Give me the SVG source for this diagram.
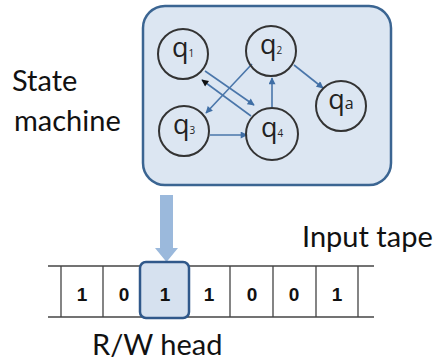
<svg xmlns="http://www.w3.org/2000/svg" width="435" height="361" viewBox="0 0 435 361">
  <defs>
    <marker id="ah" viewBox="0 0 10 10" refX="9" refY="5" markerWidth="8" markerHeight="7" orient="auto" markerUnits="userSpaceOnUse">
      <path d="M0,0 L10,5 L0,10 z" fill="#3f6ea5"/>
    </marker>
    <marker id="ahk" viewBox="0 0 10 10" refX="9" refY="5" markerWidth="8" markerHeight="7" orient="auto" markerUnits="userSpaceOnUse">
      <path d="M0,0 L10,5 L0,10 z" fill="#111"/>
    </marker>
  </defs>
  <style>
    .lbl { font-family: Lato, "Open Sans", sans-serif; font-size: 29px; fill: #111; }
    .st circle { fill: none; stroke: #333; stroke-width: 2; }
    .st text { font-family: "Open Sans", Lato, sans-serif; font-size: 27px; fill: #222; text-anchor: middle; }
    .st tspan.sub { font-size: 10px; }
    .edge { stroke: #4a76aa; stroke-width: 1.6; fill: none; marker-end: url(#ah); }
    .digit { font-family: "Liberation Sans", Arial, sans-serif; font-weight: bold; font-size: 19px; fill: #111; text-anchor: middle; }
    .tape { stroke: #444; stroke-width: 1.3; fill: none; }
  </style>

  <!-- state machine frame -->
  <g id="machine">
    <rect x="143" y="6" width="248" height="179" rx="22" ry="22" fill="#dce6f2" stroke="#3b6592" stroke-width="2.5"/>
  </g>

  <text class="lbl" x="12" y="91">State</text>
  <text class="lbl" x="14" y="131">machine</text>

  <!-- transitions -->
  <g id="edges">
    <line class="edge" x1="205" y1="71" x2="254" y2="105"/>
    <line class="edge" x1="251" y1="116" x2="202" y2="80" style="marker-end:url(#ahk)"/>
    <line class="edge" x1="252" y1="64" x2="206" y2="113"/>
    <line class="edge" x1="294" y1="65" x2="323" y2="88"/>
    <line class="edge" x1="272" y1="107" x2="272" y2="78"/>
    <line class="edge" x1="210" y1="135" x2="247" y2="135"/>
  </g>

  <g id="q1" class="st"><circle cx="183" cy="54" r="25"/><text x="183" y="57">q<tspan class="sub">1</tspan></text></g>
  <g id="q2" class="st"><circle cx="271" cy="51" r="25"/><text x="271" y="54">q<tspan class="sub">2</tspan></text></g>
  <g id="q3" class="st"><circle cx="184" cy="131" r="25"/><text x="184" y="134">q<tspan class="sub">3</tspan></text></g>
  <g id="q4" class="st"><circle cx="272" cy="134" r="26"/><text x="272" y="137">q<tspan class="sub">4</tspan></text></g>
  <g id="qa" class="st"><circle cx="341" cy="106" r="25"/><text x="341" y="109">q<tspan class="sub" style="font-size:16px">a</tspan></text></g>

  <!-- head pointer -->
  <path d="M160,195 H173 V248 H178 L166.5,262 L155,248 H160 Z" fill="#9bb9dc"/>

  <!-- input tape -->
  <g id="tape">
    <line class="tape" x1="48" y1="266" x2="374" y2="266"/>
    <line class="tape" x1="48" y1="317" x2="374" y2="317"/>
    <path class="tape" d="M61,266 V317 M103,266 V317 M146,266 V317 M188,266 V317 M230,266 V317 M273,266 V317 M316,266 V317 M358,266 V317"/>
    <rect x="140" y="262" width="49" height="56" rx="6" ry="6" fill="#d6e1ef" stroke="#30588a" stroke-width="2.5"/>
    <text class="digit" x="82" y="301">1</text>
    <text class="digit" x="124" y="301">0</text>
    <text class="digit" x="165" y="301">1</text>
    <text class="digit" x="209" y="301">1</text>
    <text class="digit" x="252" y="301">0</text>
    <text class="digit" x="294" y="301">0</text>
    <text class="digit" x="337" y="301">1</text>
  </g>

  <text class="lbl" x="302" y="247">Input tape</text>
  <text class="lbl" x="92" y="355">R/W head</text>
</svg>
